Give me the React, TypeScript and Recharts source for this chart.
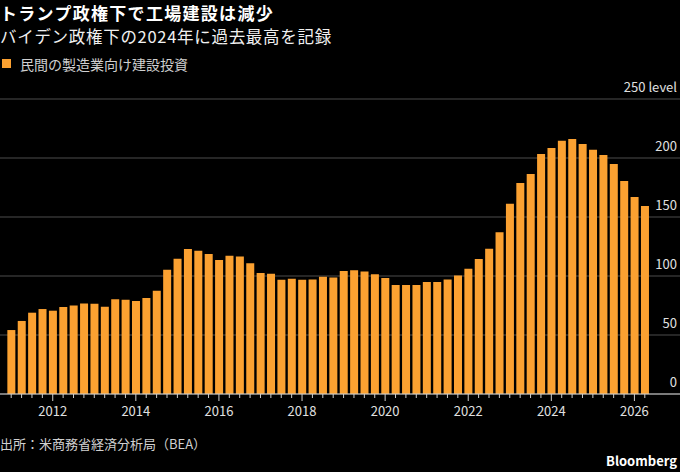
import React from 'react';
import { BarChart, Bar, XAxis, YAxis, CartesianGrid } from 'recharts';

const quarters: string[] = [
  '2011Q1', '2011Q2', '2011Q3', '2011Q4',
  '2012Q1', '2012Q2', '2012Q3', '2012Q4',
  '2013Q1', '2013Q2', '2013Q3', '2013Q4',
  '2014Q1', '2014Q2', '2014Q3', '2014Q4',
  '2015Q1', '2015Q2', '2015Q3', '2015Q4',
  '2016Q1', '2016Q2', '2016Q3', '2016Q4',
  '2017Q1', '2017Q2', '2017Q3', '2017Q4',
  '2018Q1', '2018Q2', '2018Q3', '2018Q4',
  '2019Q1', '2019Q2', '2019Q3', '2019Q4',
  '2020Q1', '2020Q2', '2020Q3', '2020Q4',
  '2021Q1', '2021Q2', '2021Q3', '2021Q4',
  '2022Q1', '2022Q2', '2022Q3', '2022Q4',
  '2023Q1', '2023Q2', '2023Q3', '2023Q4',
  '2024Q1', '2024Q2', '2024Q3', '2024Q4',
  '2025Q1', '2025Q2', '2025Q3', '2025Q4',
  '2026Q1', '2026Q2',
];

const spending: number[] = [
  54.2, 61.9, 68.9, 72.0,
  70.6, 73.7, 75.1, 76.8,
  76.5, 74.0, 80.2, 79.9,
  78.8, 81.3, 87.5, 105.3,
  114.7, 122.9, 121.4, 118.6,
  113.6, 117.2, 116.6, 110.7,
  102.5, 101.9, 96.9, 97.7,
  96.9, 97.1, 99.4, 98.8,
  104.2, 104.8, 103.9, 101.4,
  98.3, 92.4, 92.4, 92.4,
  94.9, 94.9, 97.1, 100.4,
  106.2, 114.5, 123.1, 137.0,
  161.3, 178.8, 186.4, 203.4,
  208.5, 214.7, 216.1, 211.9,
  207.0, 202.5, 194.9, 180.5,
  166.9, 159.3,
];

const yTicks: number[] = [0, 50, 100, 150, 200, 250];
const labeledYears: number[] = [2012, 2014, 2016, 2018, 2020, 2022, 2024, 2026];

const seriesName = '民間の製造業向け建設投資';
const title = 'トランプ政権下で工場建設は減少';
const subtitle = 'バイデン政権下の2024年に過去最高を記録';
const source = '出所：米商務省経済分析局（BEA）';

const ORANGE = '#FBA131';

const data = quarters.map((q, i) => ({ q, v: spending[i] }));

const XTick = (props: any) => {
  const { x, y, payload } = props;
  const label: string = String(payload.value);
  const year = parseInt(label.slice(0, 4), 10);
  const major = label.endsWith('Q1') && labeledYears.includes(year);
  return (
    <g>
      <line x1={x} x2={x} y1={y} y2={y + (major ? 7 : 4)} stroke="#cfcfcf" strokeWidth={1} />
      {major && (
        <text x={x} y={y + 22} textAnchor="middle" fill="#e0e0e0" fontSize={13}>
          {year}
        </text>
      )}
    </g>
  );
};

const YTick = (props: any) => {
  const { y, payload } = props;
  const v = payload.value;
  return (
    <text x={677} y={y - 7} textAnchor="end" fill="#e0e0e0" fontSize={13}>
      {v === 250 ? '250 level' : String(v)}
    </text>
  );
};

export default function App() {
  return (
    <div
      style={{
        position: 'fixed',
        left: 0,
        top: 0,
        width: 680,
        height: 472,
        background: '#000',
        overflow: 'hidden',
        fontFamily: '"Noto Sans CJK JP", "Noto Sans", sans-serif',
      }}
    >
      <BarChart
        width={680}
        height={472}
        data={data}
        margin={{ top: 99, right: 0, bottom: 0, left: 0 }}
        barCategoryGap="13%"
      >
        <CartesianGrid vertical={false} stroke="#4d4d4d" strokeWidth={1} />
        <XAxis
          dataKey="q"
          height={78}
          interval={0}
          tickSize={0}
          tickMargin={0}
          tickLine={false}
          axisLine={{ stroke: '#cfcfcf', strokeWidth: 1 }}
          padding={{ left: 6, right: 30 }}
          tick={<XTick />}
        />
        <YAxis
          orientation="right"
          mirror
          width={60}
          domain={[0, 250]}
          ticks={yTicks}
          interval={0}
          axisLine={false}
          tickLine={false}
          tick={<YTick />}
        />
        <Bar dataKey="v" name={seriesName} fill={ORANGE} isAnimationActive={false} />
      </BarChart>

      <div style={{ position: 'absolute', left: 0, top: 3.5, fontSize: 17, letterSpacing: 1.3, fontWeight: 700, color: '#fff', lineHeight: '17px', whiteSpace: 'nowrap' }}>
        {title}
      </div>
      <div style={{ position: 'absolute', left: 0, top: 28, fontSize: 16.5, letterSpacing: 0.7, color: '#f0f0f0', lineHeight: '16.5px', whiteSpace: 'nowrap' }}>
        {subtitle}
      </div>
      <div style={{ position: 'absolute', left: 2, top: 59, width: 9, height: 9, background: ORANGE }} />
      <div style={{ position: 'absolute', left: 20, top: 56, fontSize: 14, color: '#d0d0d0', lineHeight: '16px', whiteSpace: 'nowrap' }}>
        {seriesName}
      </div>
      <div style={{ position: 'absolute', left: 0, top: 436, fontSize: 13, color: '#d0d0d0', lineHeight: '16px', whiteSpace: 'nowrap' }}>
        {source}
      </div>
      <div style={{ position: 'absolute', right: 3, top: 453, fontSize: 13, fontWeight: 700, color: '#fff', lineHeight: '16px', whiteSpace: 'nowrap' }}>
        Bloomberg
      </div>
    </div>
  );
}
